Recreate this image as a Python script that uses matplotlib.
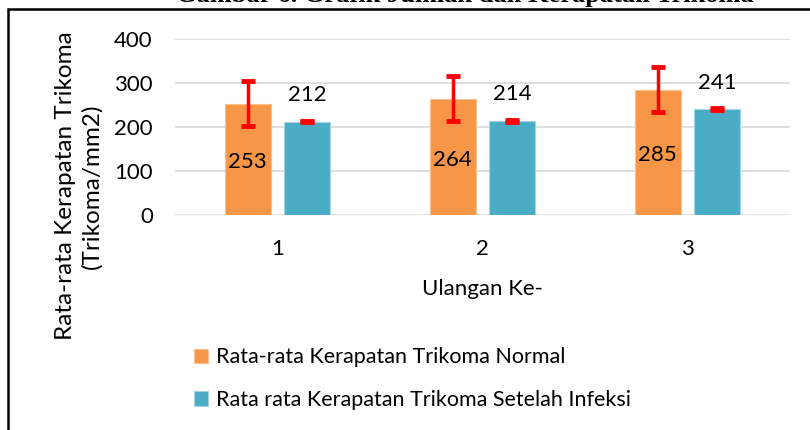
import matplotlib.pyplot as plt
import numpy as np
from matplotlib.patches import Rectangle

# data
ulangan = ['1', '2', '3']
normal = [253, 264, 285]
infeksi = [212, 214, 241]
err_normal = [51, 51, 51]
err_infeksi = [1.5, 1.5, 1.5]

plt.rcParams['font.family'] = ['Lato', 'DejaVu Sans']

fig = plt.figure(figsize=(8.1, 4.3), dpi=100)
ax = fig.add_axes([175 / 810, 1 - 215 / 430, 615 / 810, 176 / 430])

x = np.arange(len(ulangan))
w = 0.225
off = 0.145
b1 = ax.bar(x - off, normal, w, color='#F79646', edgecolor='#FAC090', linewidth=0.8,
            label='Rata-rata Kerapatan Trikoma Normal', zorder=2)
b2 = ax.bar(x + off, infeksi, w, color='#4BACC6', edgecolor='#A5D5E2', linewidth=0.8,
            label='Rata rata Kerapatan Trikoma Setelah Infeksi', zorder=2)
ax.errorbar(x - off, normal, yerr=err_normal, fmt='none', ecolor='#FF0000',
            elinewidth=2.5, capsize=5, capthick=3.5, zorder=3)
ax.errorbar(x + off, infeksi, yerr=err_infeksi, fmt='none', ecolor='#FF0000',
            elinewidth=2.5, capsize=5, capthick=3.5, zorder=3)

# value labels
for xi, v in zip(x - off, normal):
    ax.text(xi, v / 2 - 6, str(v), ha='center', va='center', fontsize=16, zorder=4)
for xi, v in zip(x + off, infeksi):
    ax.text(xi, v + 60, str(v), ha='center', va='center', fontsize=16, zorder=4)

ax.set_xlim(-0.5, 2.5)
ax.set_ylim(0, 400)
ax.set_yticks([0, 100, 200, 300, 400])
ax.set_xticks(x)
ax.set_xticklabels(ulangan)
ax.tick_params(length=0, labelsize=16)
ax.tick_params(axis='y', pad=16)
ax.tick_params(axis='x', pad=17)
ax.grid(axis='y', color='#D9D9D9', linewidth=1.2, zorder=0)
for s in ax.spines.values():
    s.set_visible(False)
ax.set_xlabel('Ulangan Ke-', fontsize=16, labelpad=15)
ax.set_ylabel('Rata-rata Kerapatan Trikoma\n(Trikoma/mm2)', fontsize=17.5, linespacing=1.3)
ax.yaxis.set_label_coords(-0.118, 0.165)

fig.legend(handles=[b1, b2], loc='upper left', bbox_to_anchor=(175 / 810, 1 - 328 / 430),
           frameon=False, fontsize=15.5, handlelength=0.65, handleheight=0.65,
           handletextpad=0.35, labelspacing=1.05)

# outer frame and cut-off caption
fig.patches.append(Rectangle((8 / 810, -0.1), 2, 1 - 9 / 430 + 0.1, transform=fig.transFigure,
                             fill=False, edgecolor='black', linewidth=1.8))
fig.text(465 / 810, 1 - 2 / 430, 'Gambar 6. Grafik Jumlah dan Kerapatan Trikoma',
         ha='center', va='baseline', fontsize=19, family='Liberation Serif', fontweight='bold')

plt.savefig('out.png', dpi=100)
